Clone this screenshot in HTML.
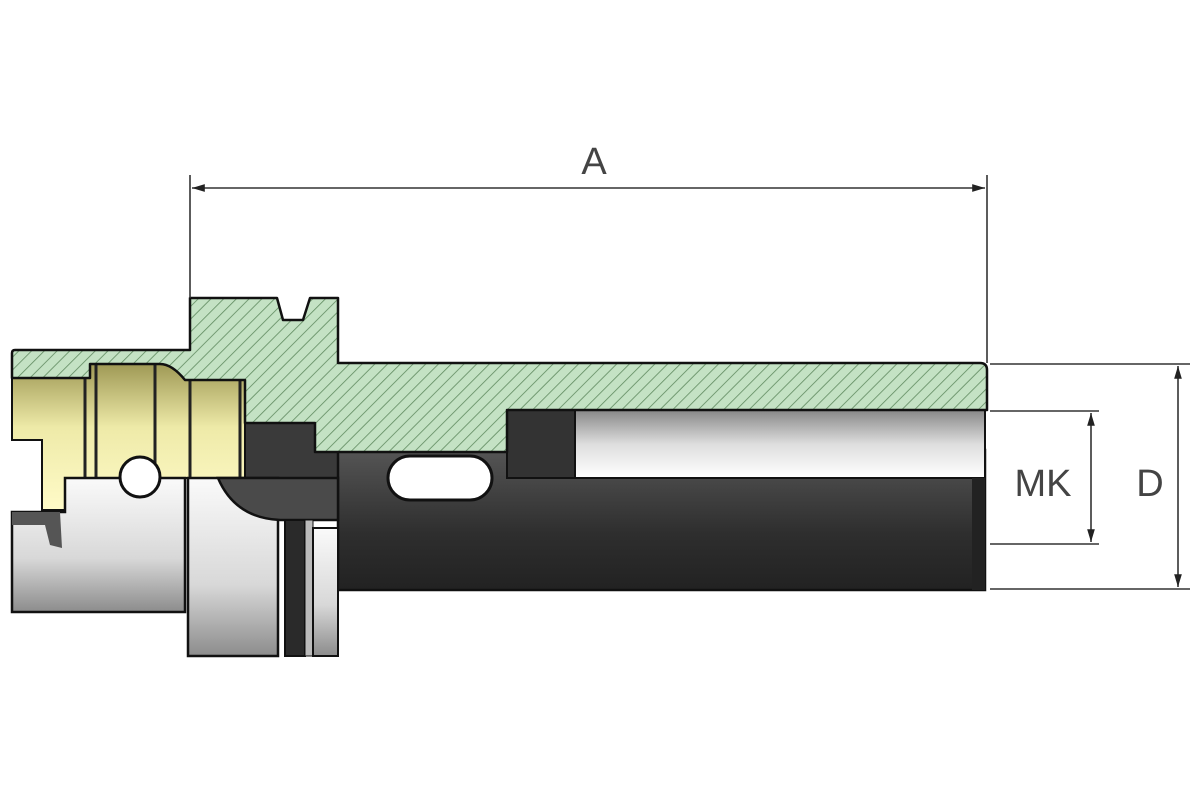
<!DOCTYPE html>
<html><head><meta charset="utf-8"><style>body{margin:0;background:#fff}svg{display:block}</style></head>
<body>
<svg width="1200" height="800" viewBox="0 0 1200 800" xmlns="http://www.w3.org/2000/svg">
<defs>
<pattern id="h" width="9" height="9" patternUnits="userSpaceOnUse" patternTransform="rotate(45)">
<rect width="9" height="9" fill="#c4e2c4"/><line x1="0" y1="0" x2="0" y2="9" stroke="#5f8a5f" stroke-width="1.6"/></pattern>
<linearGradient id="y" x1="0" y1="0" x2="0" y2="1"><stop offset="0" stop-color="#9a9450"/><stop offset="0.45" stop-color="#eeeaa8"/><stop offset="1" stop-color="#fffbc8"/></linearGradient>
<linearGradient id="s" x1="0" y1="0" x2="0" y2="1"><stop offset="0" stop-color="#fafafa"/><stop offset="0.6" stop-color="#d8d8d8"/><stop offset="1" stop-color="#8c8c8c"/></linearGradient>
<linearGradient id="s2" x1="0" y1="0" x2="0" y2="1"><stop offset="0" stop-color="#888"/><stop offset="0.5" stop-color="#ddd"/><stop offset="1" stop-color="#fff"/></linearGradient>
<linearGradient id="d" x1="0" y1="0" x2="0" y2="1"><stop offset="0" stop-color="#555"/><stop offset="0.6" stop-color="#2e2e2e"/><stop offset="1" stop-color="#222"/></linearGradient>
<marker id="a" viewBox="0 0 10 10" refX="10" refY="5" markerWidth="8" markerHeight="8" orient="auto-start-reverse"><path d="M0,2 L10,5 L0,8 z" fill="#222"/></marker>
</defs>
<!-- dark body -->
<rect x="245" y="423" width="95" height="60" fill="#3a3a3a" stroke="#111" stroke-width="2"/>
<rect x="338" y="450" width="647" height="140" fill="url(#d)" stroke="#111" stroke-width="2.5"/>
<rect x="575" y="410" width="410" height="68" fill="url(#s2)" stroke="#111" stroke-width="2"/>
<rect x="507" y="410" width="68" height="68" fill="#333" stroke="#111" stroke-width="2"/>
<rect x="972" y="478" width="13" height="112" fill="#222"/>
<rect x="388" y="456" width="104" height="44" rx="22" fill="#fff" stroke="#111" stroke-width="3"/>
<!-- yellow -->
<path d="M12,360 H245 V478 H65 V510 H42 V440 H12 Z" fill="url(#y)" stroke="#111" stroke-width="2"/>
<g stroke="#222" stroke-width="3"><line x1="85" y1="370" x2="85" y2="478"/><line x1="96" y1="365" x2="96" y2="478"/><line x1="155" y1="365" x2="155" y2="478"/><line x1="190" y1="380" x2="190" y2="478"/><line x1="240" y1="380" x2="240" y2="478"/></g>
<!-- silver lower -->
<path d="M12,512 H65 V478 H185 V612 H12 Z" fill="url(#s)" stroke="#111" stroke-width="2.5"/>
<path d="M12,512 H60 L62,548 L50,545 L45,525 H12 Z" fill="#555"/>
<rect x="188" y="478" width="90" height="178" fill="url(#s)" stroke="#111" stroke-width="2.5"/>
<path d="M218,478 H338 V520 H280 Q235,518 218,478 Z" fill="#4a4a4a" stroke="#111" stroke-width="2.5"/>
<rect x="285" y="520" width="20" height="136" fill="#2a2a2a" stroke="#111" stroke-width="2"/>
<rect x="305" y="520" width="8" height="136" fill="#bbb" stroke="#111" stroke-width="1"/>
<rect x="313" y="528" width="25" height="128" fill="url(#s)" stroke="#111" stroke-width="2"/>
<circle cx="140" cy="477" r="20" fill="#fff" stroke="#111" stroke-width="3"/>
<!-- green hatched section -->
<path d="M190,298 H277 L283,320 H303 L310,298 H338 V363 H980 Q987,363 987,370 V410 H507 V452 H315 V423 H245 V380 H185 Q172,364 160,364 H90 V378 H12 V353 Q12,350 15,350 H190 Z" fill="url(#h)" stroke="#111" stroke-width="2.5" stroke-linejoin="round"/>
<!-- dimensions -->
<g stroke="#333" stroke-width="1.6" fill="none">
<line x1="190" y1="175" x2="190" y2="298"/><line x1="987" y1="175" x2="987" y2="363"/>
<line x1="192" y1="188" x2="985" y2="188" marker-start="url(#a)" marker-end="url(#a)"/>
<line x1="990" y1="364" x2="1190" y2="364"/><line x1="990" y1="589" x2="1190" y2="589"/>
<line x1="1178" y1="366" x2="1178" y2="587" marker-start="url(#a)" marker-end="url(#a)"/>
<line x1="990" y1="411" x2="1099" y2="411"/><line x1="990" y1="544" x2="1099" y2="544"/>
<line x1="1091" y1="413" x2="1091" y2="542" marker-start="url(#a)" marker-end="url(#a)"/>
</g>
<g font-family="Liberation Sans, sans-serif" fill="#444" font-size="38" text-anchor="middle">
<text x="594" y="174">A</text>
<text x="1043" y="496">MK</text>
<text x="1150" y="496">D</text>
</g>
</svg>
</body></html>
